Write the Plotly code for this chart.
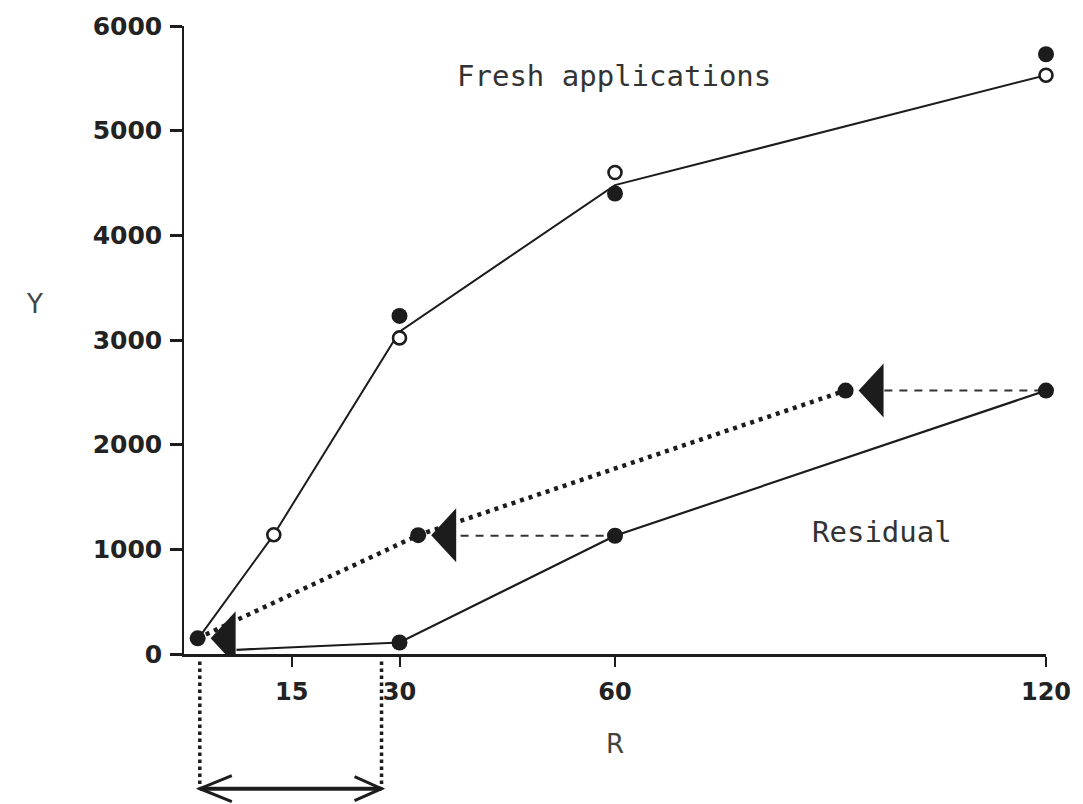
import plotly.graph_objects as go

# ---------------- data ----------------
# Fresh applications
fresh_line_R = [2, 12.5, 30, 60, 120]
fresh_line_Y = [150, 1140, 3080, 4480, 5530]
fresh_open_R = [12.5, 30, 60, 120]
fresh_open_Y = [1140, 3020, 4600, 5530]
fresh_filled_R = [30, 60, 120]
fresh_filled_Y = [3230, 4400, 5730]

# Residual
resid_line_R = [7.3, 30, 60, 120]
resid_line_Y = [40, 110, 1130, 2517]
resid_R = [30, 60, 120]
resid_Y = [110, 1130, 2517]

# Equivalent fresh rates (dotted curve)
equiv_R = [1.9, 32.6, 92.1]
equiv_Y = [150, 1135, 2517]

# Horizontal dashed arrows: from residual point to equivalent rate
arrow_from_R = [60, 120]
arrow_to_R = [38.5, 97.5]
arrow_Y = [1130, 2517]

# Bracket below the axis
bracket_R = [2.2, 27.5]

x_tickvals = [15, 30, 60, 120]
x_ticktext = ["15", "30", "60", "120"]
y_tickvals = [0, 1000, 2000, 3000, 4000, 5000, 6000]
y_ticktext = ["0", "1000", "2000", "3000", "4000", "5000", "6000"]

INK = "#1c1c1c"

fig = go.Figure()

# Fresh applications line
fig.add_trace(go.Scatter(x=fresh_line_R, y=fresh_line_Y, mode="lines",
                         line=dict(color=INK, width=2), cliponaxis=False,
                         showlegend=False, hoverinfo="skip"))
# Residual line
fig.add_trace(go.Scatter(x=resid_line_R, y=resid_line_Y, mode="lines",
                         line=dict(color=INK, width=2.2), cliponaxis=False,
                         showlegend=False, hoverinfo="skip"))
# Dotted curve of equivalents
fig.add_trace(go.Scatter(x=equiv_R, y=equiv_Y, mode="lines",
                         line=dict(color=INK, width=4.5, dash="4px,5px"),
                         showlegend=False, hoverinfo="skip"))
# Dashed arrows
for i in range(len(arrow_Y)):
    fig.add_trace(go.Scatter(x=[arrow_to_R[i], arrow_from_R[i]],
                             y=[arrow_Y[i], arrow_Y[i]], mode="lines",
                             line=dict(color="#333", width=2, dash="8px,7px"),
                             showlegend=False, hoverinfo="skip"))

# Markers
fig.add_trace(go.Scatter(x=fresh_open_R, y=fresh_open_Y, mode="markers",
                         marker=dict(symbol="circle", size=13, color="white",
                                     line=dict(color=INK, width=2.6)),
                         cliponaxis=False, showlegend=False, hoverinfo="skip"))
fig.add_trace(go.Scatter(x=fresh_filled_R, y=fresh_filled_Y, mode="markers",
                         marker=dict(symbol="circle", size=16, color=INK),
                         cliponaxis=False, showlegend=False, hoverinfo="skip"))
fig.add_trace(go.Scatter(x=resid_R, y=resid_Y, mode="markers",
                         marker=dict(symbol="circle", size=16, color=INK),
                         cliponaxis=False, showlegend=False, hoverinfo="skip"))
fig.add_trace(go.Scatter(x=equiv_R, y=equiv_Y, mode="markers",
                         marker=dict(symbol="circle", size=16, color=INK),
                         cliponaxis=False, showlegend=False, hoverinfo="skip"))

shapes = []
# Large arrowheads (pointing left) next to each equivalent point
for r, y in zip(equiv_R, equiv_Y):
    shapes.append(dict(type="path", xref="x", yref="y",
                       xsizemode="pixel", ysizemode="pixel",
                       xanchor=r, yanchor=y,
                       path="M13,0 L38,27 L38,-27 Z",
                       fillcolor=INK, line=dict(width=0)))

# Bracket under the axis
y_br = -0.2145
for r in bracket_R:
    shapes.append(dict(type="line", xref="x", yref="paper",
                       x0=r, x1=r, y0=-0.012, y1=y_br,
                       line=dict(color=INK, width=3.5, dash="dot")))
shapes.append(dict(type="line", xref="x", yref="paper",
                   x0=bracket_R[0], x1=bracket_R[1], y0=y_br, y1=y_br,
                   line=dict(color=INK, width=4)))
shapes.append(dict(type="path", xref="x", yref="paper",
                   xsizemode="pixel", ysizemode="pixel",
                   xanchor=bracket_R[0], yanchor=y_br,
                   path="M32,13 L0,0 L32,-13",
                   line=dict(color=INK, width=3)))
shapes.append(dict(type="path", xref="x", yref="paper",
                   xsizemode="pixel", ysizemode="pixel",
                   xanchor=bracket_R[1], yanchor=y_br,
                   path="M-27,12 L0,0 L-27,-12",
                   line=dict(color=INK, width=3)))

annotations = [
    dict(text="Fresh applications", x=59.9, y=5525, xref="x", yref="y",
         showarrow=False, font=dict(family="DejaVu Sans Mono", size=29, color="#333")),
    dict(text="Residual", x=97.1, y=1164, xref="x", yref="y",
         showarrow=False, font=dict(family="DejaVu Sans Mono", size=29, color="#333")),
    dict(text="Y", x=-0.174, y=0.558, xref="paper", yref="paper",
         xanchor="center", yanchor="middle",
         showarrow=False, font=dict(family="DejaVu Sans", size=26, color="#444")),
    dict(text="R", x=0.5, y=-0.1435, xref="paper", yref="paper",
         xanchor="center", yanchor="middle",
         showarrow=False, font=dict(family="DejaVu Sans", size=26, color="#444")),
]

fig.update_layout(
    width=1083, height=804, autosize=False,
    margin=dict(l=184, r=31, t=20, b=150),
    paper_bgcolor="white", plot_bgcolor="white",
    shapes=shapes, annotations=annotations,
    xaxis=dict(range=[0, 120], showline=True, linecolor=INK, linewidth=2.5,
               ticks="outside", ticklen=10, tickwidth=1.5, tickcolor=INK,
               tickvals=x_tickvals, ticktext=x_ticktext,
               tickfont=dict(family="DejaVu Sans", size=24, color="#222", weight="bold"),
               ticklabelstandoff=4,
               showgrid=False, zeroline=False),
    yaxis=dict(range=[0, 6000], showline=True, linecolor=INK, linewidth=1.5,
               ticks="outside", ticklen=12, tickwidth=2.5, tickcolor=INK,
               tickvals=y_tickvals, ticktext=y_ticktext,
               tickfont=dict(family="DejaVu Sans", size=25, color="#222", weight="bold"),
               ticklabelstandoff=3,
               showgrid=False, zeroline=False),
)

fig.write_html("out.html")
